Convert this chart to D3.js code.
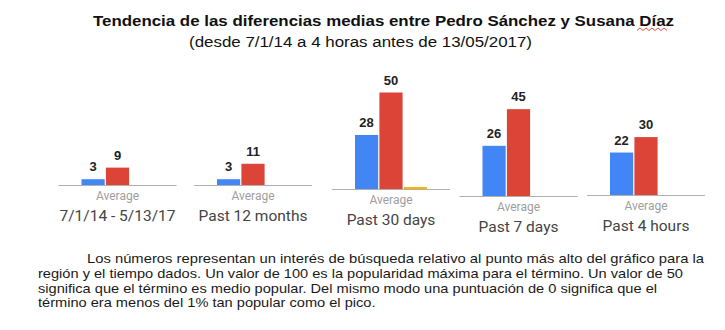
<!DOCTYPE html>
<html>
<head>
<meta charset="utf-8">
<script src="https://cdn.jsdelivr.net/npm/d3@7"></script>
<style>
  html, body { margin: 0; padding: 0; background: #fff; }
  svg { display: block; }
</style>
</head>
<body>
<svg id="chart" width="725" height="330"></svg>
<script>
// data
const categories = ["7/1/14 - 5/13/17", "Past 12 months", "Past 30 days", "Past 7 days", "Past 4 hours"];
const seriesNames = ["Pedro Sánchez", "Susana Díaz", "Otro"];
const pedroValues = [3, 3, 28, 26, 22];
const susanaValues = [9, 11, 50, 45, 30];
const otherValues = [0, 0, 1, 0, 0];
const subLabel = "Average";

const title = "Tendencia de las diferencias medias entre Pedro  Sánchez y  Susana Díaz";
const subtitle = "(desde 7/1/14 a 4 horas antes de 13/05/2017)";
const noteLines = [
    "Los números representan un interés de búsqueda relativo al punto más alto del gráfico para la",
    "región y el tiempo dados. Un valor de 100 es la popularidad máxima para el término. Un valor de 50",
    "significa que el término es medio popular. Del mismo modo una puntuación de 0 significa que el",
    "término era menos del 1% tan popular como el pico."
];

// layout (each panel is a pasted screenshot, so they sit a bit off each other)
const panelCenters = [117.5, 253, 391, 518.5, 646];
const panelBaselines = [185, 185, 189, 196, 195];
const panelWidth = 118;
const noteX = [87, 38, 38, 38];
const noteWidth = [617, 645, 619, null];   // last line keeps the same squeeze as the others
const noteY = [263, 278, 292.5, 307];
const colors = ["#4285f4", "#db4437", "#f4b400"];

const svg = d3.select('#chart');

// title
svg.append('text')
    .attr('x', 93).attr('y', 26)
    .attr('textLength', 581).attr('lengthAdjust', 'spacingAndGlyphs')
    .style('font-family', '"Liberation Sans", Arial, sans-serif')
    .style('font-size', '15.5px').style('font-weight', 'bold')
    .style('fill', '#111')
    .text(title);

// spell-check squiggle under "Díaz"
const sq = d3.range(0, 31, 3).map((d, i) => [637 + d, i % 2 ? 28 : 30.5]);
svg.append('path')
    .attr('d', d3.line()(sq))
    .attr('fill', 'none').attr('stroke', '#e53935').attr('stroke-width', 0.9);

svg.append('text')
    .attr('x', 189).attr('y', 47)
    .attr('textLength', 343).attr('lengthAdjust', 'spacingAndGlyphs')
    .style('font-family', '"Liberation Sans", Arial, sans-serif')
    .style('font-size', '15.5px')
    .style('fill', '#111')
    .text(subtitle);

// scales
const x = d3.scaleBand().domain(seriesNames).range([-36, 36]).paddingInner(0.05);
const y = d3.scaleLinear().domain([0, 100]).range([0, 193]);

const rows = categories.map((c, i) => ({
    cat: c,
    cx: panelCenters[i],
    base: panelBaselines[i],
    values: [pedroValues[i], susanaValues[i], otherValues[i]]
}));

const panels = svg.selectAll('.panel').data(rows).enter()
    .append('g')
    .attr('class', 'panel')
    .attr('transform', d => `translate(${d.cx}, ${d.base})`);

panels.append('line')
    .attr('x1', -panelWidth / 2).attr('x2', panelWidth / 2)
    .attr('y1', 0.5).attr('y2', 0.5)
    .attr('stroke', '#b0b0b0').attr('stroke-width', 1);

panels.selectAll('.bar')
    .data(d => d.values.map((v, j) => ({ v: v, s: seriesNames[j], j: j })))
    .enter()
    .append('rect')
    .attr('class', 'bar')
    .attr('x', d => x(d.s))
    .attr('width', x.bandwidth())
    .attr('y', d => -y(d.v))
    .attr('height', d => y(d.v))
    .style('fill', d => colors[d.j]);

panels.selectAll('.val')
    .data(d => d.values.map((v, j) => ({ v: v, s: seriesNames[j], j: j })).filter(d => d.j < 2))
    .enter()
    .append('text')
    .attr('class', 'val')
    .attr('x', d => x(d.s) + x.bandwidth() / 2)
    .attr('y', d => -y(d.v) - 8)
    .attr('text-anchor', 'middle')
    .style('font-family', '"Liberation Sans", Arial, sans-serif')
    .style('font-size', '13px').style('font-weight', 'bold')
    .style('fill', '#222')
    .text(d => d.v);

panels.append('text')
    .attr('y', 15)
    .attr('text-anchor', 'middle')
    .style('font-family', 'Roboto, sans-serif')
    .style('font-size', '12px')
    .style('fill', '#9e9e9e')
    .text(subLabel);

panels.append('text')
    .attr('y', 36)
    .attr('text-anchor', 'middle')
    .style('font-family', 'Roboto, sans-serif')
    .style('font-size', '15.5px')
    .style('fill', '#444')
    .text(d => d.cat);

// note under the chart
const notes = svg.selectAll('.note').data(noteLines).enter()
    .append('text')
    .attr('class', 'note')
    .attr('x', (d, i) => noteX[i])
    .attr('y', (d, i) => noteY[i])
    .style('font-family', '"Liberation Sans", Arial, sans-serif')
    .style('font-size', '13px')
    .style('fill', '#1a1a1a')
    .text(d => d);

let natural = notes.nodes().map(n => n.getComputedTextLength());
let squeeze = noteWidth[1] / natural[1];
notes.attr('textLength', (d, i) => noteWidth[i] || natural[i] * squeeze)
    .attr('lengthAdjust', 'spacingAndGlyphs');
</script>
</body>
</html>
